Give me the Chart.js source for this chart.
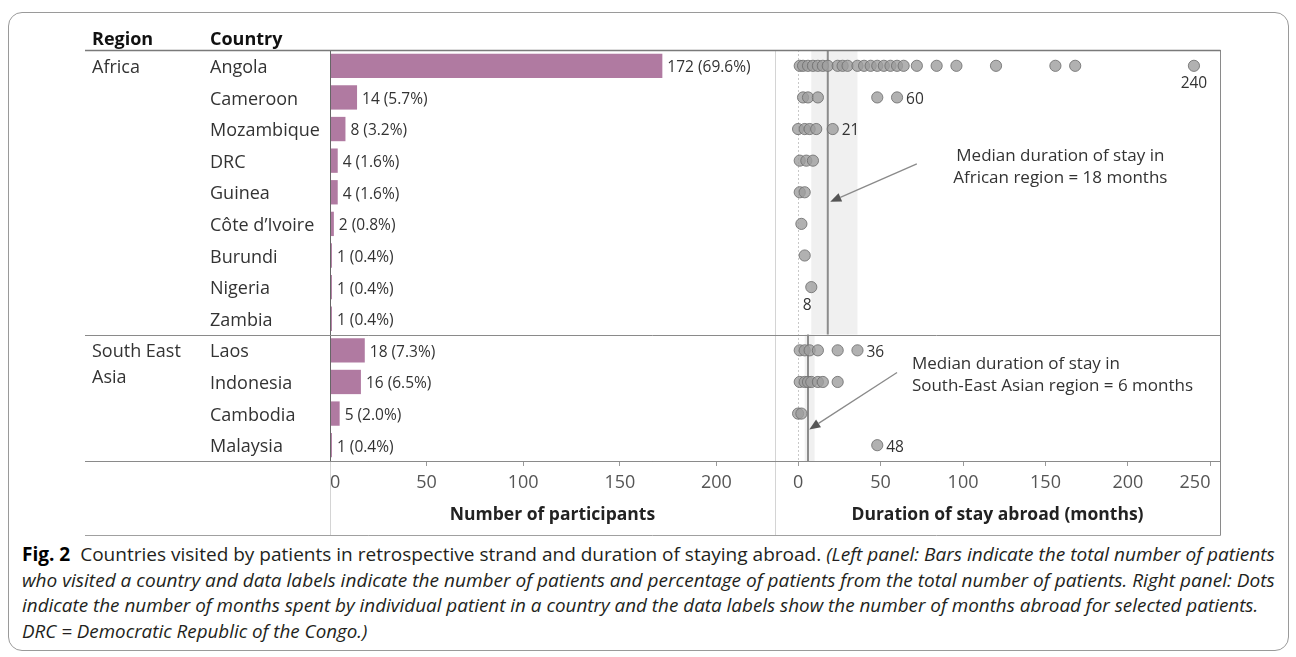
<!DOCTYPE html>
<html>
<head>
<meta charset="utf-8">
<script src="https://cdn.jsdelivr.net/npm/chart.js@4.4.1/dist/chart.umd.min.js"></script>
<style>
  html, body { margin: 0; padding: 0; background: #fff; width: 1296px; height: 657px; overflow: hidden; }
  #frame { position: absolute; left: 8px; top: 12px; width: 1279px; height: 637px; border: 1px solid #9a9a9a; border-radius: 14px; }
  #chart { position: absolute; left: 0; top: 0; }
  .cap { position: absolute; left: 22px; white-space: nowrap; font-family: "Liberation Sans Narrow", "Open Sans", sans-serif;
         font-size: 19px; line-height: 26px; color: #231f20; transform-origin: 0 50%; }
  .cap b { font-weight: 700; color: #000; }
</style>
</head>
<body>
<div id="frame"></div>
<canvas id="chart" width="1296" height="541"></canvas>
<div class="cap" id="cap1" style="top:541px"><b>Fig. 2</b>&nbsp; Countries visited by patients in retrospective strand and duration of staying abroad. <i>(Left panel: Bars indicate the total number of patients</i></div>
<div class="cap" id="cap2" style="top:567px"><i>who visited a country and data labels indicate the number of patients and percentage of patients from the total number of patients. Right panel: Dots</i></div>
<div class="cap" id="cap3" style="top:592px"><i>indicate the number of months spent by individual patient in a country and the data labels show the number of months abroad for selected patients.</i></div>
<div class="cap" id="cap4" style="top:618px"><i>DRC = Democratic Republic of the Congo.)</i></div>

<script>
// ---- data ----
const countries = ['Angola', 'Cameroon', 'Mozambique', 'DRC', 'Guinea', 'Côte d’Ivoire', 'Burundi', 'Nigeria', 'Zambia',
                   'Laos', 'Indonesia', 'Cambodia', 'Malaysia'];
const regionNames = [['Africa'], ['South East', 'Asia']];
const regionSizes = [9, 4];
const participants = [172, 14, 8, 4, 4, 2, 1, 1, 1, 18, 16, 5, 1];

// months abroad per patient, one list per country (same order as countries)
const monthsAbroad = [
  [1, 3, 6, 9, 12, 15, 18, 24, 27, 30, 36, 40, 44, 48, 52, 56, 60, 64, 72, 84, 96, 120, 156, 168, 240],
  [3, 6, 12, 48, 60],
  [0, 4, 7, 11, 21],
  [1, 5, 9],
  [1, 4],
  [2],
  [4],
  [8],
  [],
  [1, 4, 7, 12, 24, 36],
  [1, 4, 6, 8, 12, 15, 24],
  [0, 2],
  [48]
];
const labelledStays = [['Angola', 240], ['Cameroon', 60], ['Mozambique', 21], ['Nigeria', 8], ['Laos', 36], ['Malaysia', 48]];

const regionMedians = [18, 6];
const regionBandLow = [8, 4];
const regionBandHigh = [36, 10];
const medianNotes = [
  ['Median duration of stay in', 'African region = 18 months'],
  ['Median duration of stay in', 'South-East Asian region = 6 months']
];

const participantTicks = [0, 50, 100, 150, 200];
const durationTicks = [0, 50, 100, 150, 200, 250];

// ---- derived ----
const totalPatients = participants.reduce((a, b) => a + b, 0);
const stayPoints = [];
monthsAbroad.forEach((list, i) => list.forEach(m => stayPoints.push({ x: m, y: countries[i] })));

const FONT = 'Open Sans';
const TEXT = '#333';
const DY = 2; // optical nudge for middle-baseline text

// where the notes and their arrows sit, in (months, row) coordinates
const notePlacement = [
  { textX: 159, rows: [2.8, 3.5], align: 'center', from: [72, 3.1], to: [19.5, 4.3] },
  { textX: 69, rows: [9.37, 10.07], align: 'left', from: [60, 9.7], to: [6.8, 11.5] }
];
const labelsBelow = new Set(['Angola', 'Nigeria']);

function line(ctx, x1, y1, x2, y2, color, width, dash) {
  ctx.save();
  ctx.strokeStyle = color;
  ctx.lineWidth = width || 1;
  if (dash) ctx.setLineDash(dash);
  ctx.beginPath();
  ctx.moveTo(x1, y1);
  ctx.lineTo(x2, y2);
  ctx.stroke();
  ctx.restore();
}

const tablePlugin = {
  id: 'tableLayout',
  beforeDatasetsDraw(chart) {
    const { ctx, chartArea, scales: { x2, y } } = chart;
    const rowH = y.getPixelForValue(1) - y.getPixelForValue(0);
    let start = 0;
    regionSizes.forEach((n, r) => {
      const top = y.getPixelForValue(start) - rowH / 2;
      const bottom = y.getPixelForValue(start + n - 1) + rowH / 2;
      const lo = x2.getPixelForValue(regionBandLow[r]);
      const hi = x2.getPixelForValue(regionBandHigh[r]);
      ctx.fillStyle = '#f0f0f0';
      ctx.fillRect(lo, top, hi - lo, bottom - top);
      start += n;
    });
    // zero reference in the duration panel
    const z = Math.round(x2.getPixelForValue(0)) + 0.5;
    line(ctx, z, chartArea.top, z, chartArea.bottom, '#c8c8c8', 1, [2, 2]);
    start = 0;
    regionSizes.forEach((n, r) => {
      const top = y.getPixelForValue(start) - rowH / 2;
      const bottom = y.getPixelForValue(start + n - 1) + rowH / 2;
      const m = x2.getPixelForValue(regionMedians[r]);
      line(ctx, m, top, m, bottom, '#8c8c8c', 2);
      start += n;
    });
  },
  afterDraw(chart) {
    const { ctx, chartArea, scales: { x, x2, y } } = chart;
    const rowH = y.getPixelForValue(1) - y.getPixelForValue(0);
    const left = 85, right = Math.round(chartArea.right) + 0.5;
    const tableBottom = Math.round(chartArea.bottom) + 74.5;

    // grid of the table
    const x0 = Math.round(x.getPixelForValue(0)) + 0.5;
    const split = Math.round(x.right) + 0.5;
    line(ctx, x0, chartArea.top, x0, chartArea.bottom, '#666', 1);
    line(ctx, x0, chartArea.bottom, x0, tableBottom, '#d4d4d4', 1);
    line(ctx, split, chartArea.top, split, tableBottom, '#d4d4d4', 1);
    line(ctx, right, chartArea.top, right, tableBottom, '#8a8a8a', 1);
    const top = Math.round(chartArea.top) + 0.5;
    line(ctx, left, top, right, top, '#7a7a7a', 1.3);
    let start = 0;
    regionSizes.forEach(n => {
      const yb = Math.round(y.getPixelForValue(start + n - 1) + rowH / 2) + 0.5;
      line(ctx, left, yb, right, yb, '#8a8a8a', 1);
      start += n;
    });
    line(ctx, left, tableBottom, right, tableBottom, '#a0a0a0', 1);

    ctx.save();
    ctx.textBaseline = 'middle';
    // headers
    ctx.fillStyle = '#111';
    ctx.font = `bold 18px "${FONT}"`;
    ctx.textAlign = 'left';
    ctx.fillText('Region', 92, 38 + DY);
    ctx.fillText('Country', 210, 38 + DY);

    // region and country names
    ctx.font = `18px "${FONT}"`;
    ctx.fillStyle = TEXT;
    start = 0;
    regionSizes.forEach((n, r) => {
      const y0 = y.getPixelForValue(start) + DY;
      regionNames[r].forEach((t, k) => ctx.fillText(t, 92, y0 + k * 26));
      start += n;
    });
    countries.forEach((c, i) => ctx.fillText(c, 210, y.getPixelForValue(i) + DY));

    // bar value labels
    ctx.font = `15.5px "${FONT}"`;
    ctx.fillStyle = TEXT;
    participants.forEach((v, i) => {
      const pct = (v / totalPatients * 100).toFixed(1);
      ctx.fillText(`${v} (${pct}%)`, x.getPixelForValue(v) + 5, y.getPixelForValue(i) + DY);
    });

    // selected duration labels
    ctx.font = `15.5px "${FONT}"`;
    labelledStays.forEach(([c, m]) => {
      const px = x2.getPixelForValue(m);
      const py = y.getPixelForValue(countries.indexOf(c)) + DY;
      if (labelsBelow.has(c)) {
        ctx.textAlign = 'center';
        ctx.fillText(String(m), px - (m < 10 ? 4 : 0), py + 16);
      } else {
        ctx.textAlign = 'left';
        ctx.fillText(String(m), px + 9, py);
      }
    });

    // median notes with arrows
    ctx.font = `17px "${FONT}"`;
    ctx.fillStyle = '#333';
    notePlacement.forEach((p, r) => {
      ctx.textAlign = p.align;
      medianNotes[r].forEach((t, k) => ctx.fillText(t, x2.getPixelForValue(p.textX), y.getPixelForValue(p.rows[k]) + DY));
      const ax = x2.getPixelForValue(p.from[0]), ay = y.getPixelForValue(p.from[1]);
      const bx = x2.getPixelForValue(p.to[0]), by = y.getPixelForValue(p.to[1]);
      const ang = Math.atan2(by - ay, bx - ax);
      const hl = 11, hw = 4.5;
      const baseX = bx - hl * Math.cos(ang), baseY = by - hl * Math.sin(ang);
      line(ctx, ax, ay, baseX, baseY, '#8a8a8a', 1.3);
      ctx.fillStyle = '#555';
      ctx.beginPath();
      ctx.moveTo(bx, by);
      ctx.lineTo(baseX + hw * Math.sin(ang), baseY - hw * Math.cos(ang));
      ctx.lineTo(baseX - hw * Math.sin(ang), baseY + hw * Math.cos(ang));
      ctx.closePath();
      ctx.fill();
      ctx.fillStyle = '#333';
    });
    ctx.restore();
  }
};

// bottom axis; an unlabelled tick at the panel edge lets 'inner' alignment keep the end labels inside
function bottomAxis(min, max, tickValues, title, padEnd) {
  return {
    type: 'linear', position: 'bottom', stack: 'panels', stackWeight: 1,
    min, max,
    afterBuildTicks: s => {
      const t = tickValues.map(v => ({ value: v }));
      if (padEnd === 'end') t.push({ value: max, label: '' });
      if (padEnd === 'start') t.unshift({ value: min, label: '' });
      s.ticks = t;
    },
    afterFit: s => { s.height = 80; },
    grid: { drawOnChartArea: false, drawTicks: true, tickLength: 5,
            color: ctx => (ctx.tick && ctx.tick.label === '') ? 'rgba(0,0,0,0)' : '#9a9a9a' },
    border: { display: true, color: '#7a7a7a' },
    ticks: { font: { family: FONT, size: 18 }, color: '#555', padding: 6, maxRotation: 0, autoSkip: false, align: 'inner',
             callback: (v, i, ticks) => ticks[i].label === '' ? '' : String(v) },
    title: { display: true, text: title, font: { family: FONT, size: 17.5, weight: 'bold' }, color: '#222', padding: { top: 0, bottom: 15 } }
  };
}

new Chart(document.getElementById('chart'), {
  type: 'bar',
  data: {
    labels: countries,
    datasets: [
      {
        type: 'bar', data: participants, xAxisID: 'x', yAxisID: 'y',
        backgroundColor: '#b07aa1', borderWidth: 0, barPercentage: 0.77, categoryPercentage: 1
      },
      {
        type: 'scatter', data: stayPoints, xAxisID: 'x2', yAxisID: 'y',
        pointRadius: 5.6, pointHoverRadius: 5.6, borderWidth: 1,
        backgroundColor: 'rgba(158,158,158,0.8)', borderColor: 'rgba(112,112,112,0.85)', clip: false
      }
    ]
  },
  options: {
    indexAxis: 'y',
    responsive: false,
    animation: false,
    events: [],
    layout: { padding: { left: 330, right: 76, top: 50, bottom: 0 } },
    plugins: { legend: { display: false }, tooltip: { enabled: false } },
    scales: {
      y: { type: 'category', display: false, offset: true },
      x: bottomAxis(0, 230.3, participantTicks, 'Number of participants', 'end'),
      x2: bottomAxis(-14, 255.8, durationTicks, 'Duration of stay abroad (months)', 'start')
    }
  },
  plugins: [tablePlugin]
});

// stretch each caption line to its column width
const captionWidths = { cap1: 1253, cap2: 1253, cap3: 1236, cap4: 345 };
Object.entries(captionWidths).forEach(([id, w]) => {
  const el = document.getElementById(id);
  el.style.transform = `scaleX(${w / el.scrollWidth})`;
});
</script>
</body>
</html>
